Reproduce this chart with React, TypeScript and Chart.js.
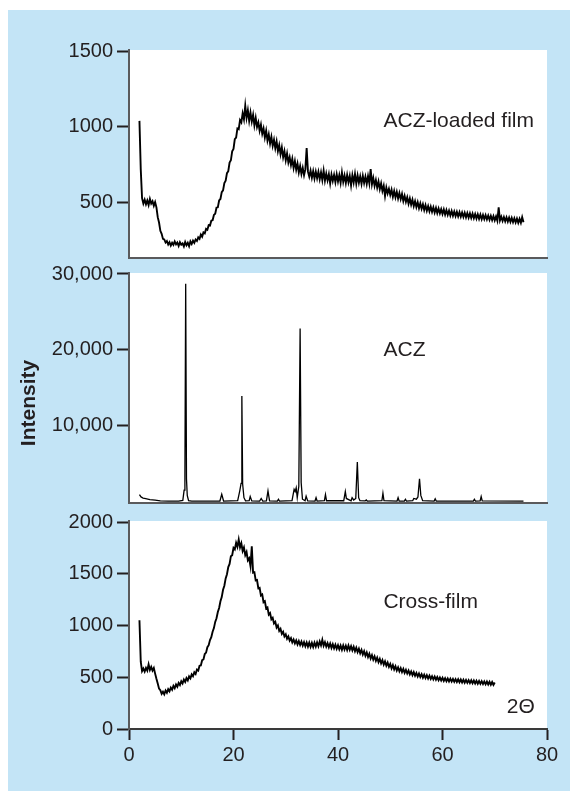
import React, { useEffect, useRef } from 'react';
import { Chart, registerables } from 'chart.js';

Chart.register(...registerables);

const FONT = '"Liberation Sans", Arial, Helvetica, sans-serif';
const INK = '#231f20';
const AXIS = '#5a5a5c';
const BLUE = '#c3e4f6';

// ---- tick labels ----
const xTicks = [0, 20, 40, 60, 80];
const filmTicks = [500, 1000, 1500];
const aczTicks = [10000, 20000, 30000];
const crossTicks = [0, 500, 1000, 1500, 2000];

// ---- texts ----
const filmLabel = 'ACZ-loaded film';
const aczLabel = 'ACZ';
const crossLabel = 'Cross-film';
const xAxisLabel = '2Θ';
const yAxisLabel = 'Intensity';

// ---- ACZ-loaded film: 2θ from 2.00 in steps of 0.25 ----
const filmStart = 2;
const filmStep = 0.25;
const filmValues = [
  1040, 720, 530, 495, 520, 490, 515, 485, 525, 495, 510, 480,
  505, 470, 405, 370, 315, 295, 262, 258, 238, 248, 225, 240,
  218, 236, 222, 245, 226, 238, 215, 240, 224, 232, 212, 242,
  220, 236, 214, 245, 228, 250, 236, 258, 248, 272, 262, 290,
  276, 305, 298, 328, 322, 352, 350, 382, 385, 420, 428, 468,
  470, 515, 525, 570, 582, 630, 645, 695, 708, 765, 780, 840,
  855, 920, 930, 990, 985, 1045, 1030, 1090, 1050, 1140, 1060, 1110,
  1040, 1095, 1035, 1080, 1010, 1060, 1000, 1030, 975, 1015, 955, 990,
  930, 975, 910, 950, 890, 935, 875, 915, 860, 905, 840, 880,
  820, 865, 800, 840, 780, 825, 765, 800, 748, 790, 730, 775,
  718, 758, 700, 742, 690, 730, 682, 720, 860, 705, 672, 712,
  665, 708, 660, 705, 662, 704, 655, 700, 650, 712, 646, 692,
  648, 688, 628, 686, 644, 684, 636, 688, 640, 682, 632, 700,
  638, 680, 630, 684, 636, 678, 615, 682, 634, 690, 626, 680,
  632, 674, 625, 678, 630, 672, 624, 676, 628, 722, 622, 664,
  612, 650, 600, 640, 590, 628, 578, 612, 545, 600, 562, 592,
  552, 586, 540, 578, 536, 572, 528, 564, 524, 558, 512, 546,
  506, 536, 494, 528, 488, 520, 478, 510, 472, 504, 464, 496,
  460, 490, 452, 484, 448, 478, 444, 474, 440, 470, 436, 466,
  432, 462, 430, 458, 426, 456, 422, 452, 420, 448, 416, 446,
  414, 442, 412, 440, 410, 438, 408, 436, 406, 434, 404, 432,
  402, 430, 400, 428, 398, 426, 396, 424, 394, 422, 392, 420,
  392, 418, 390, 416, 388, 414, 386, 412, 384, 410, 382, 470,
  384, 408, 380, 406, 378, 404, 376, 402, 374, 400, 372, 398,
  370, 396, 368, 394, 368, 405, 372,
];

// ---- ACZ powder: peak list (2θ, intensity) ----
const aczX = [
  2.0, 2.3, 2.7, 3.2, 4.0, 5.0, 6.0, 7.5, 9.5, 10.3, 10.55, 10.7, 10.85, 11.0, 11.15, 11.4, 12.0,
  17.4, 17.75, 18.1, 20.8, 21.2, 21.45, 21.6, 21.75, 22.0, 22.3, 23.0, 23.2, 23.5, 25.0, 25.3, 25.6,
  26.3, 26.6, 26.9, 28.4, 28.6, 28.8, 31.2, 31.6, 31.8, 32.0, 32.2, 32.5, 32.75, 32.95, 33.2, 33.7,
  33.9, 34.2, 35.6, 35.8, 36.0, 37.4, 37.6, 37.8, 41.1, 41.4, 41.6, 42.5, 42.7, 43.0, 43.4, 43.7,
  43.95, 44.2, 45.2, 45.4, 45.6, 48.4, 48.6, 48.8, 51.3, 51.5, 51.7, 52.7, 52.9, 53.1, 54.3, 54.5,
  55.0, 55.3, 55.6, 55.85, 56.2, 58.4, 58.6, 58.8, 65.9, 66.1, 66.3, 67.2, 67.4, 67.6, 75.5,
];
const aczY = [
  900, 600, 450, 380, 250, 180, 80, 50, 40, 150, 1500, 3200, 28700, 3000, 800, 100, 40,
  60, 950, 60, 100, 1400, 2400, 13900, 2300, 500, 80, 100, 650, 80, 60, 400, 60,
  80, 1400, 80, 60, 300, 60, 100, 1600, 1300, 1800, 500, 2000, 22800, 2500, 300, 100,
  700, 80, 60, 500, 60, 100, 900, 100, 100, 1300, 400, 100, 500, 200, 400, 5200,
  500, 100, 80, 200, 60, 100, 1100, 100, 60, 500, 60, 60, 300, 60, 100, 400,
  300, 600, 3000, 800, 100, 60, 350, 60, 60, 300, 60, 80, 650, 80, 50,
];

// ---- Cross-film: 2θ from 2.00 in steps of 0.25 ----
const crossStart = 2;
const crossStep = 0.25;
const crossValues = [
  1050, 650, 560, 585, 555, 590, 565, 625, 570, 600, 565, 590,
  535, 485, 440, 390, 375, 340, 360, 335, 372, 350, 385, 365,
  400, 380, 418, 395, 430, 408, 445, 425, 462, 440, 478, 455,
  492, 470, 508, 490, 528, 510, 548, 532, 575, 565, 612, 615,
  665, 672, 725, 738, 790, 810, 860, 888, 940, 975, 1035, 1070,
  1130, 1170, 1235, 1275, 1345, 1385, 1455, 1495, 1565, 1595, 1670, 1680,
  1750, 1735, 1800, 1760, 1830, 1755, 1795, 1720, 1755, 1680, 1710, 1630,
  1650, 1575, 1765, 1510, 1515, 1435, 1440, 1360, 1365, 1290, 1300, 1225,
  1235, 1165, 1175, 1105, 1120, 1060, 1075, 1020, 1035, 980, 1000, 948,
  968, 920, 940, 895, 915, 872, 895, 855, 878, 838, 865, 828,
  856, 818, 850, 812, 845, 806, 840, 800, 836, 796, 834, 794,
  832, 792, 834, 796, 838, 800, 845, 808, 862, 805, 838, 796,
  830, 790, 826, 784, 820, 780, 815, 775, 810, 770, 806, 766,
  808, 768, 804, 764, 806, 766, 800, 760, 794, 752, 786, 744,
  776, 732, 764, 720, 752, 708, 740, 696, 728, 682, 714, 670,
  702, 658, 690, 646, 678, 634, 666, 622, 654, 612, 642, 600,
  628, 586, 618, 576, 606, 566, 596, 558, 588, 550, 580, 542,
  572, 536, 564, 528, 556, 520, 550, 514, 542, 507, 536, 502,
  530, 496, 524, 492, 520, 488, 515, 484, 510, 480, 506, 476,
  502, 472, 497, 469, 494, 464, 491, 462, 488, 460, 486, 458,
  484, 456, 482, 454, 480, 452, 478, 450, 476, 448, 474, 446,
  472, 444, 470, 442, 468, 440, 466, 438, 464, 436, 462, 434,
  460, 432, 458, 430, 456, 428, 454, 426,
  450,
];

const stepSeries = (start: number, step: number, vals: number[]) =>
  vals.map((y, i) => ({ x: start + i * step, y }));
const pairSeries = (xs: number[], ys: number[]) => xs.map((x, i) => ({ x, y: ys[i] }));

type Note = { text: string; x: number; y: number };
type PanelCfg = {
  data: { x: number; y: number }[];
  width: number;
  yMin: number;
  yMax: number;
  yTicks: number[];
  fmt: (v: number) => string;
  top: number;
  padBottom: number;
  showX: boolean;
  notes: Note[];
  yTitle?: boolean;
};

const plain = (v: number) => String(v);
const comma = (v: number) => v.toLocaleString('en-US');

const panels: PanelCfg[] = [
  {
    data: stepSeries(filmStart, filmStep, filmValues),
    width: 1.9,
    yMin: 136, yMax: 1507, yTicks: filmTicks, fmt: plain,
    top: 50, padBottom: 533, showX: false,
    notes: [{ text: filmLabel, x: 48.7, y: 1035 }],
  },
  {
    data: pairSeries(aczX, aczY),
    width: 1.3,
    yMin: -200, yMax: 30130, yTicks: aczTicks, fmt: comma,
    top: 273, padBottom: 288, showX: false,
    notes: [{ text: aczLabel, x: 48.7, y: 20000 }],
    yTitle: true,
  },
  {
    data: stepSeries(crossStart, crossStep, crossValues),
    width: 1.9,
    yMin: 0, yMax: 2010, yTicks: crossTicks, fmt: plain,
    top: 521, padBottom: 0, showX: true,
    notes: [
      { text: crossLabel, x: 48.7, y: 1225 },
      { text: xAxisLabel, x: 72.3, y: 215 },
    ],
  },
];

function PanelChart({ cfg }: { cfg: PanelCfg }) {
  const ref = useRef<HTMLCanvasElement | null>(null);
  useEffect(() => {
    if (!ref.current) return;
    const paper = {
      id: 'paper',
      beforeDraw(chart: any) {
        const { ctx, chartArea: a } = chart;
        ctx.save();
        ctx.fillStyle = '#ffffff';
        ctx.fillRect(a.left, a.top, a.right - a.left, a.bottom - a.top);
        ctx.restore();
      },
    };
    const notes = {
      id: 'notes',
      afterDraw(chart: any) {
        const { ctx, scales, chartArea: a } = chart;
        ctx.save();
        ctx.fillStyle = INK;
        ctx.font = `21px ${FONT}`;
        ctx.textAlign = 'left';
        ctx.textBaseline = 'middle';
        cfg.notes.forEach((n) => {
          ctx.fillText(n.text, scales.x.getPixelForValue(n.x), scales.y.getPixelForValue(n.y));
        });
        if (cfg.yTitle) {
          ctx.translate(a.left - 100, a.top + 130);
          ctx.rotate(-Math.PI / 2);
          ctx.font = `bold 21px ${FONT}`;
          ctx.textAlign = 'center';
          ctx.fillText(yAxisLabel, 0, 0);
        }
        ctx.restore();
      },
    };
    const chart = new Chart(ref.current, {
      type: 'line',
      data: {
        datasets: [
          {
            data: cfg.data,
            borderColor: '#000000',
            borderWidth: cfg.width,
            pointRadius: 0,
            tension: 0,
            fill: false,
            borderJoinStyle: 'miter',
          },
        ],
      },
      options: {
        responsive: false,
        animation: false,
        devicePixelRatio: 1,
        events: [],
        layout: { padding: { left: 8, right: 23, top: cfg.top, bottom: cfg.padBottom } },
        plugins: { legend: { display: false }, tooltip: { enabled: false }, title: { display: false } },
        scales: {
          x: {
            type: 'linear',
            min: 0,
            max: 80,
            afterBuildTicks: (s: any) => {
              s.ticks = xTicks.map((v) => ({ value: v }));
            },
            afterFit: (s: any) => {
              s.height = cfg.showX ? 62 : 0;
            },
            grid: {
              drawOnChartArea: false,
              drawTicks: cfg.showX,
              tickLength: 11,
              tickWidth: 2,
              tickColor: INK,
            },
            border: { display: true, color: cfg.showX ? '#3a3a3a' : AXIS, width: 2 },
            ticks: {
              display: cfg.showX,
              padding: 3,
              color: INK,
              font: { family: FONT, size: 20 },
              maxRotation: 0,
              autoSkip: false,
            },
          },
          y: {
            type: 'linear',
            min: cfg.yMin,
            max: cfg.yMax,
            afterBuildTicks: (s: any) => {
              s.ticks = cfg.yTicks.map((v) => ({ value: v }));
            },
            afterFit: (s: any) => {
              s.width = 121;
            },
            grid: {
              drawOnChartArea: false,
              drawTicks: true,
              tickLength: 12,
              tickWidth: 2,
              tickColor: INK,
            },
            border: { display: true, color: AXIS, width: 2 },
            ticks: {
              padding: 4,
              color: INK,
              font: { family: FONT, size: 20 },
              autoSkip: false,
              callback: (v: any) => cfg.fmt(Number(v)),
            },
          },
        },
      },
      plugins: [paper, notes],
    } as any);
    return () => chart.destroy();
  }, [cfg]);
  return (
    <canvas
      ref={ref}
      width={570}
      height={791}
      style={{ position: 'absolute', left: 0, top: 0, width: 570, height: 791 }}
    />
  );
}

export default function App() {
  return (
    <div
      style={{
        position: 'fixed',
        left: 0,
        top: 0,
        width: 570,
        height: 791,
        background: '#ffffff',
        overflow: 'hidden',
      }}
    >
      <div style={{ position: 'absolute', left: 8, top: 10, width: 562, height: 781, background: BLUE }} />
      {panels.map((p, i) => (
        <PanelChart key={i} cfg={p} />
      ))}
    </div>
  );
}
